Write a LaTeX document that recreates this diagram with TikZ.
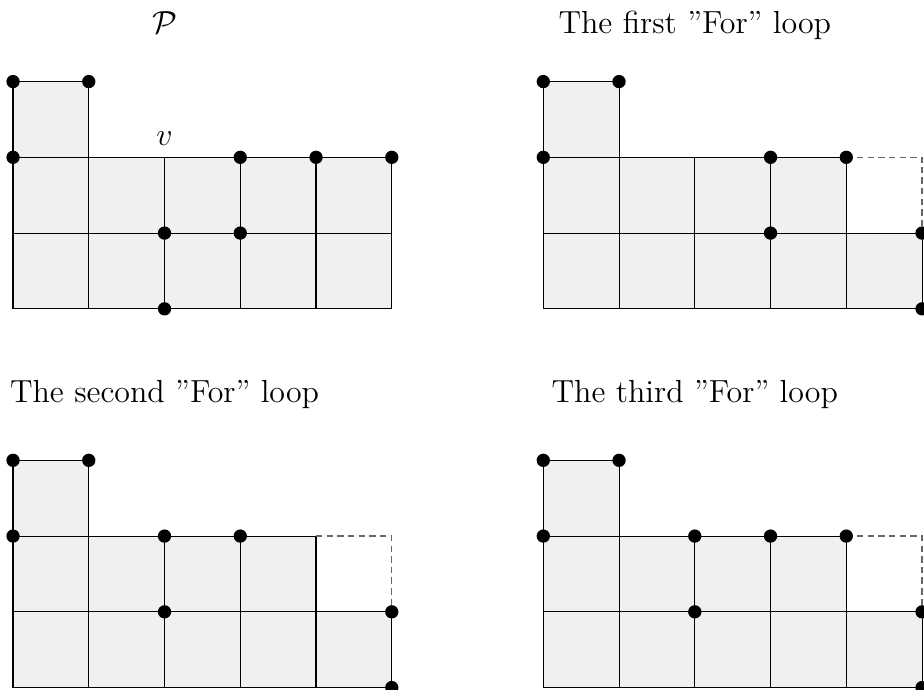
\documentclass[tikz,border=0pt]{standalone}
\usepackage{amsmath}
\begin{document}
\begin{tikzpicture}[x=1cm,y=1cm,
  cellfill/.style={fill=black!6, draw=none},
  gridline/.style={line width=0.4pt, black},
  dashline/.style={line width=0.5pt, black!60, dash pattern=on 2.4pt off 1.6pt},
  dot/.style={circle, fill=black, inner sep=0pt, minimum size=5pt},
  title/.style={anchor=base, font=\large, inner sep=0pt}]
\useasboundingbox (-0.172,-0.026) rectangle (12.026,9.077);

% ---------- Panel 1 ----------
\begin{scope}[shift={(0,5)}]
  \fill[cellfill] (0,0) rectangle (5,2) (0,2) rectangle (1,3);
  \draw[gridline] (0,0) grid (5,2);
  \draw[gridline] (0,2) -- (0,3) -- (1,3) -- (1,2);
  \foreach \n/\p in {a/{(0,3)},b/{(1,3)},c/{(0,2)},d/{(3,2)},e/{(4,2)},f/{(5,2)},g/{(2,1)},h/{(3,1)},i/{(2,0)}}
    \node[dot] (pA\n) at \p {};
  \node[anchor=base, font=\large, inner sep=0pt] (vlab) at (2,2.15) {$v$};
  \node[title] (tA) at (2,3.64) {$\mathcal{P}$};
\end{scope}

% ---------- Panel 2 ----------
\begin{scope}[shift={(7,5)}]
  \fill[cellfill] (0,0) rectangle (5,1) (0,1) rectangle (4,2) (0,2) rectangle (1,3);
  \draw[gridline] (0,0) -- (5,0) (0,1) -- (5,1) (0,2) -- (4,2);
  \foreach \x in {0,...,4} \draw[gridline] (\x,0) -- (\x,2);
  \draw[gridline] (5,0) -- (5,1);
  \draw[gridline] (0,2) -- (0,3) -- (1,3) -- (1,2);
  \draw[dashline] (4,2) -- (5,2) -- (5,1);
  \foreach \n/\p in {a/{(0,3)},b/{(1,3)},c/{(0,2)},d/{(3,2)},e/{(4,2)},f/{(5,1)},g/{(3,1)},h/{(5,0)}}
    \node[dot] (pB\n) at \p {};
  \node[title] (tB) at (2,3.64) {The first ''For'' loop};
\end{scope}

% ---------- Panel 3 ----------
\begin{scope}[shift={(0,0)}]
  \fill[cellfill] (0,0) rectangle (5,1) (0,1) rectangle (4,2) (0,2) rectangle (1,3);
  \draw[gridline] (0,0) -- (5,0) (0,1) -- (5,1) (0,2) -- (4,2);
  \foreach \x in {0,...,4} \draw[gridline] (\x,0) -- (\x,2);
  \draw[gridline] (5,0) -- (5,1);
  \draw[gridline] (0,2) -- (0,3) -- (1,3) -- (1,2);
  \draw[dashline] (4,2) -- (5,2) -- (5,1);
  \foreach \n/\p in {a/{(0,3)},b/{(1,3)},c/{(0,2)},d/{(2,2)},e/{(3,2)},f/{(2,1)},g/{(5,1)},h/{(5,0)}}
    \node[dot] (pC\n) at \p {};
  \node[title] (tC) at (2,3.76) {The second ''For'' loop};
\end{scope}

% ---------- Panel 4 ----------
\begin{scope}[shift={(7,0)}]
  \fill[cellfill] (0,0) rectangle (5,1) (0,1) rectangle (4,2) (0,2) rectangle (1,3);
  \draw[gridline] (0,0) -- (5,0) (0,1) -- (5,1) (0,2) -- (4,2);
  \foreach \x in {0,...,4} \draw[gridline] (\x,0) -- (\x,2);
  \draw[gridline] (5,0) -- (5,1);
  \draw[gridline] (0,2) -- (0,3) -- (1,3) -- (1,2);
  \draw[dashline] (4,2) -- (5,2) -- (5,1);
  \foreach \n/\p in {a/{(0,3)},b/{(1,3)},c/{(0,2)},d/{(2,2)},e/{(3,2)},f/{(4,2)},g/{(2,1)},h/{(5,1)},i/{(5,0)}}
    \node[dot] (pD\n) at \p {};
  \node[title] (tD) at (2,3.76) {The third ''For'' loop};
\end{scope}
\end{tikzpicture}
\end{document}
